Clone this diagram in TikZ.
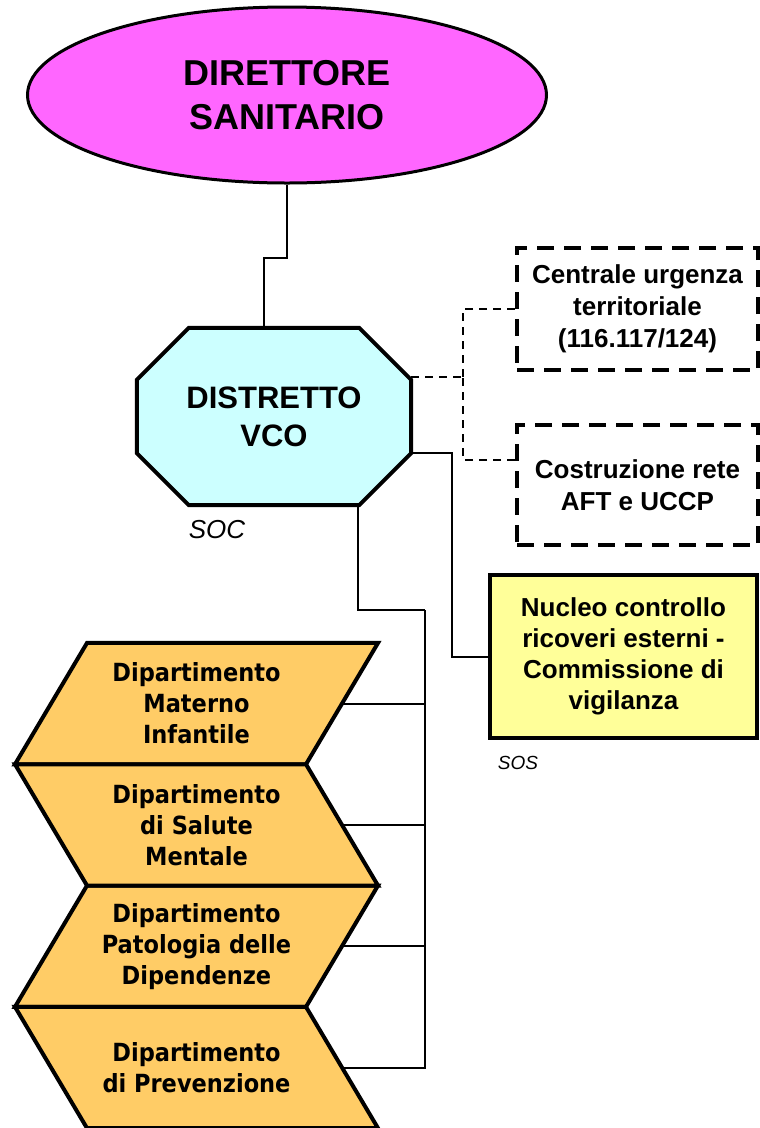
\documentclass[tikz,border=0pt]{standalone}
\usepackage{fontspec}
\setmainfont{Liberation Sans}
\newfontfamily\deptfont{DejaVu Sans}[FakeStretch=0.9]
\usepackage{tikz}
\usetikzlibrary{shapes.geometric,positioning,backgrounds}
\definecolor{dirmagenta}{HTML}{FF66FF}
\definecolor{distcyan}{HTML}{CCFFFF}
\definecolor{sosyellow}{HTML}{FFFF99}
\definecolor{deptorange}{HTML}{FFCC66}
\tikzset{
 asl link/.style={line width=2pt,draw=black},
 asl dashlink/.style={asl link,dash pattern=on 8pt off 6pt},
 asl top/.style={ellipse,draw,line width=3pt,fill=dirmagenta,minimum width=519pt,
   minimum height=176pt,inner sep=0pt,align=center,
   font=\bfseries\fontsize{36}{44}\selectfont},
 asl district/.style={minimum width=274pt,minimum height=177pt,inner sep=0pt,
   align=center,font=\bfseries\fontsize{31}{38}\selectfont},
 asl octagon/.style={draw,line width=4pt,fill=distcyan},
 asl staff/.style={draw,line width=4pt,dash pattern=on 17pt off 10pt,fill=white,
   minimum width=241pt,minimum height=122pt,inner sep=0pt,align=center,
   font=\bfseries\fontsize{26}{32}\selectfont},
 asl unit/.style={draw,line width=4pt,fill=sosyellow,minimum width=267pt,
   minimum height=163pt,inner sep=0pt,align=center,
   font=\bfseries\fontsize{26}{31}\selectfont},
 asl dept/.style={minimum width=363pt,minimum height=121.3pt,inner sep=0pt,
   outer sep=0pt,align=center,font=\deptfont\bfseries\fontsize{25}{31}\selectfont},
 asl chevron/.style={draw,line width=4pt,fill=deptorange},
 asl tag/.style={inner sep=0pt,font=\itshape\fontsize{26}{26}\selectfont}
}
\begin{document}
\begin{tikzpicture}[x=1pt,y=-1pt]
\useasboundingbox (0,0) rectangle (760,1128);
\node[asl top] (dir) at (287,95) {DIRETTORE\\SANITARIO};
\node[asl district] (dist) at (274,416.5) {DISTRETTO\\VCO};
\node[asl staff] (cut) at (637.5,309) {Centrale urgenza\\territoriale\\(116.117/124)};
\node[asl staff,minimum height=120pt] (aft) at (637.5,485) {Costruzione rete\\AFT e UCCP};
\node[asl unit] (ncr) at (623.5,656.5) {Nucleo controllo\\ricoveri esterni -\\Commissione di\\vigilanza};
\node[asl dept] (matinf) at (196.5,703.6) {Dipartimento\\Materno\\Infantile};
\node[asl dept,below=0pt of matinf] (salment) {Dipartimento\\di Salute\\Mentale};
\node[asl dept,below=0pt of salment] (patdip) {Dipartimento\\Patologia delle\\Dipendenze};
\node[asl dept,below=0pt of patdip] (prev) {Dipartimento\\di Prevenzione};
\node[asl tag] (soc) at (217,530) {SOC};
\node[asl tag,font=\itshape\fontsize{19}{19}\selectfont] (sos) at (518,763) {SOS};
\begin{scope}[on background layer]
\draw[asl octagon] ([xshift=52pt]dist.north west) -- ([xshift=-52pt]dist.north east)
  -- ([yshift=-52pt]dist.north east) -- ([yshift=52pt]dist.south east)
  -- ([xshift=-52pt]dist.south east) -- ([xshift=52pt]dist.south west)
  -- ([yshift=52pt]dist.south west) -- ([yshift=-52pt]dist.north west) -- cycle;
\foreach \d in {matinf,patdip}
  \draw[asl chevron] ([xshift=72pt]\d.north west) -- (\d.north east)
    -- ([xshift=-72pt]\d.south east) -- (\d.south west) -- cycle;
\foreach \d in {salment,prev}
  \draw[asl chevron] (\d.north west) -- ([xshift=-72pt]\d.north east)
    -- (\d.south east) -- ([xshift=72pt]\d.south west) -- cycle;
\end{scope}
\draw[asl link] (dir.south) -- ++(0,73) -| ([xshift=-10pt]dist.north);
\draw[asl dashlink] ([yshift=39.5pt]dist.east) -- ++(52,0) coordinate (hub);
\draw[asl dashlink] (cut.west) -| (hub);
\draw[asl dashlink] ([yshift=25pt]aft.west) -| (hub);
\draw[asl link] ([yshift=-36.5pt]dist.east) -- ++(41,0) |- (ncr.west);
\draw[asl link] ([xshift=84pt]dist.south) |- ++(67,105) coordinate (trunk);
\draw[asl link] (trunk) |- ([xshift=-36pt]prev.east);
\foreach \d in {matinf,salment,patdip}
  \draw[asl link] ([xshift=-36pt]\d.east) -- (\d.east -| trunk);
\end{tikzpicture}
\end{document}
